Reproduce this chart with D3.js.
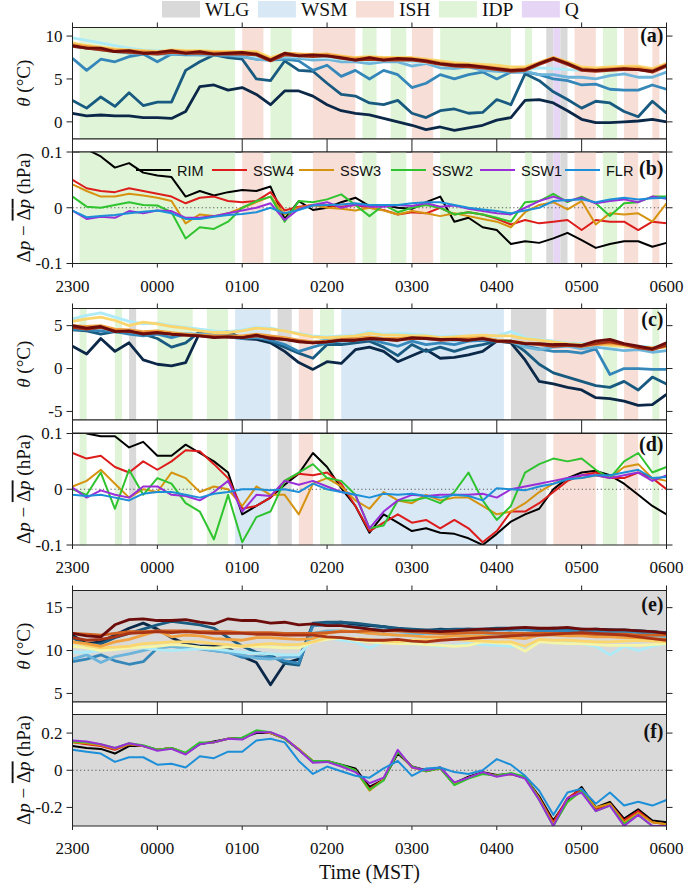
<!DOCTYPE html>
<html><head><meta charset="utf-8">
<script src="https://cdn.jsdelivr.net/npm/d3@7"></script>
<style>body{margin:0;background:#fff}</style>
</head><body><svg id="c" width="685" height="884"></svg>
<script>
// ---------------- DATA ----------------
// minutes after 2300 MST
const minutes=[0,10,20,30,40,50,60,70,80,90,100,110,120,130,140,150,160,170,180,190,200,210,220,230,240,250,260,270,280,290,300,310,320,330,340,350,360,370,380,390,400,410,420];
const hourTicks=[0,60,120,180,240,300,360,420];
const hourLabels=["2300","0000","0100","0200","0300","0400","0500","0600"];
const regimeNames=["WLG","WSM","ISH","IDP","Q"];
// shaded regimes [name, start min, end min]
const shadeAB=[["IDP",5,115],["ISH",120,135],["IDP",140,155],["ISH",170,200],["IDP",205,215],["IDP",225,236],["ISH",240,255],["IDP",260,310],["IDP",320,325],["WLG",335,340],["Q",340,345],["WLG",345,350],["ISH",355,370],["IDP",375,385],["ISH",390,400],["ISH",410,415]];
const shadeCD=[["IDP",5,10],["IDP",30,35],["WLG",40,45],["IDP",60,85],["IDP",95,110],["WSM",115,140],["WLG",145,155],["ISH",160,170],["IDP",175,185],["WSM",190,305],["WLG",310,335],["ISH",340,370],["IDP",375,385],["ISH",390,400],["IDP",410,415]];
const shadeEF=[["WLG",0,420]];

// panel (a) potential temperature
const aNavy=[1.0,0.7,0.8,0.7,0.7,0.5,0.5,0.4,1.2,4.1,4.3,3.7,4.0,3.2,2.0,3.6,3.6,3.0,2.0,1.3,1.0,0.8,0.4,0.0,-0.4,-0.9,-0.6,-1.0,-0.7,-0.4,0.2,0.5,2.5,2.6,2.2,1.3,0.3,-0.1,-0.1,0.0,0.1,0.3,0.0];
const aTeal=[2.5,1.6,2.9,1.8,3.4,1.9,2.3,2.3,6.0,7.0,7.8,7.5,7.3,5.0,4.8,7.1,6.0,5.9,4.5,3.2,3.0,2.2,2.0,2.5,1.0,0.5,1.3,1.5,1.0,1.1,2.6,2.0,5.6,4.8,3.5,2.6,1.6,2.4,2.2,1.2,0.6,2.4,1.0];
const aMed=[7.4,6.0,7.3,7.0,7.6,7.9,7.0,7.9,7.8,7.8,7.8,7.7,7.6,7.3,7.2,7.3,7.1,6.0,6.6,5.3,6.0,5.0,6.0,5.5,4.0,4.5,5.5,5.0,5.5,5.8,5.0,5.8,5.8,5.5,5.0,4.8,4.3,4.4,3.8,3.7,3.7,4.3,3.8];
const aLight=[8.8,8.6,8.4,8.2,8.0,8.0,7.9,7.9,7.9,7.8,7.8,7.8,7.6,7.3,7.2,7.5,7.4,7.2,7.3,7.0,7.0,6.8,7.0,7.0,6.5,6.8,6.3,6.2,6.4,6.0,5.9,5.8,5.9,5.5,5.5,5.2,5.2,5.0,5.4,5.6,5.2,5.2,5.8];
const aCyan=[9.8,9.5,9.2,8.9,8.6,8.4,8.3,8.2,8.2,8.1,8.0,8.0,8.0,7.6,7.4,7.7,7.6,7.5,7.5,7.3,7.2,7.1,7.2,7.2,7.0,6.9,6.8,6.6,6.5,6.4,6.3,6.2,6.1,6.3,6.2,6.1,6.0,6.1,6.0,6.2,6.1,6.0,6.4];
const aYellow=[9.2,8.9,8.7,8.5,8.4,8.3,8.2,8.4,8.3,8.3,8.2,8.2,8.2,8.2,7.5,8.0,7.9,7.9,7.9,7.7,7.5,7.6,7.5,7.5,7.5,7.3,7.1,6.9,6.8,6.7,6.6,6.4,6.4,6.9,7.5,7.0,6.4,6.3,6.4,6.5,6.5,6.2,6.8];
const aOrange=[9.0,8.8,8.6,8.4,8.3,8.2,8.1,8.3,8.2,8.2,8.1,8.1,8.1,8.0,7.3,8.0,7.9,7.8,7.9,7.6,7.4,7.5,7.4,7.4,7.4,7.2,6.9,6.7,6.6,6.5,6.3,6.1,6.2,6.9,7.5,6.9,6.2,6.1,6.2,6.3,6.3,6.0,6.7];
const aRed=[8.8,8.6,8.4,8.2,8.1,8.0,7.9,8.1,8.0,8.0,7.9,7.9,7.9,7.8,7.1,7.8,7.7,7.6,7.7,7.4,7.2,7.3,7.2,7.2,7.2,7.0,6.7,6.5,6.4,6.3,6.1,5.9,6.0,6.7,7.3,6.7,6.0,5.9,6.0,6.1,6.1,5.8,6.5];
const aMaroon=[8.9,8.6,8.6,8.2,8.3,8.0,8.1,8.3,8.0,8.2,7.9,8.0,8.1,7.9,7.2,8.0,7.7,7.8,7.7,7.5,7.2,7.5,7.2,7.4,7.3,7.1,6.8,6.6,6.6,6.4,6.2,6.0,6.1,6.8,7.4,6.8,6.1,6.0,6.1,6.2,6.1,5.9,6.6];

// panel (b) pressure perturbation
const bRIM=[0.13,0.105,0.092,0.072,0.08,0.063,0.058,0.055,0.02,0.03,0.022,0.028,0.032,0.03,0.038,-0.02,0.012,-0.004,0.0,0.01,0.018,0.003,0.005,0.0,-0.002,0.01,0.02,-0.025,-0.018,-0.035,-0.04,-0.065,-0.06,-0.063,-0.055,-0.045,-0.058,-0.072,-0.065,-0.06,-0.06,-0.07,-0.063];
const bSSW4=[0.05,0.035,0.03,0.028,0.035,0.03,0.025,0.02,0.008,0.018,0.02,0.012,0.01,0.012,0.028,-0.005,0.002,0.005,0.004,0.002,0.005,0.0,-0.004,-0.012,-0.008,-0.01,0.0,-0.012,-0.008,-0.012,-0.02,-0.03,-0.022,-0.028,-0.025,-0.022,-0.04,-0.022,-0.025,-0.025,-0.04,-0.025,-0.028];
const bSSW3=[0.042,0.03,0.02,0.02,0.025,0.022,0.018,0.012,-0.028,-0.012,-0.015,-0.01,0.0,0.01,0.02,-0.012,0.0,0.005,0.0,-0.002,-0.005,0.0,-0.005,-0.012,-0.006,-0.01,-0.015,-0.01,-0.015,-0.02,-0.025,-0.035,-0.008,0.005,0.01,-0.003,0.012,-0.03,-0.01,-0.012,-0.01,-0.025,0.008];
const bSSW2=[0.02,0.002,0.0,0.005,0.01,0.005,0.004,-0.008,-0.055,-0.035,-0.038,-0.025,0.0,0.012,0.02,-0.025,0.012,0.01,0.015,0.024,0.005,-0.015,0.005,-0.008,0.0,0.005,0.0,-0.012,-0.008,-0.012,-0.018,-0.025,0.01,0.012,0.025,0.01,0.02,0.008,-0.015,0.008,0.01,0.02,0.02];
const bSSW1=[-0.005,-0.02,-0.016,-0.018,-0.006,-0.01,-0.005,-0.006,-0.018,-0.018,-0.015,-0.01,-0.005,0.0,0.008,-0.022,-0.002,0.005,0.01,0.0,0.006,0.002,0.002,0.005,0.003,0.008,0.002,0.004,-0.002,-0.006,-0.01,-0.012,0.0,0.012,0.02,0.012,0.018,0.008,0.012,0.015,0.01,0.02,0.016];
const bFLR=[-0.005,-0.017,-0.015,-0.013,-0.01,-0.007,-0.005,-0.01,-0.02,-0.02,-0.016,-0.013,-0.011,-0.008,0.0,-0.01,-0.004,0.004,0.005,0.006,0.008,0.005,0.005,0.005,0.008,0.01,0.01,0.005,0.0,-0.003,-0.006,-0.01,-0.005,0.0,0.012,0.014,0.015,0.01,0.015,0.018,0.015,0.017,0.018];

// panel (c)
const cNavy=[2.6,1.7,3.5,2.0,3.0,1.0,0.5,0.3,0.7,4.2,4.3,4.3,3.5,3.4,3.0,2.0,0.7,-0.1,0.8,0.6,2.2,2.5,2.0,0.8,1.5,2.2,1.2,1.3,1.6,2.0,3.2,3.0,1.0,-1.5,-1.8,-2.2,-2.5,-3.4,-3.5,-3.8,-4.3,-4.2,-3.0];
const cTeal=[4.5,4.4,4.0,4.3,4.2,4.0,3.5,2.5,3.0,4.3,4.2,4.1,3.6,3.8,3.2,2.5,1.8,1.2,2.8,2.8,3.0,3.2,2.5,1.5,2.8,2.0,2.5,2.0,2.5,2.8,3.2,3.2,2.0,0.5,-0.5,-1.0,-1.5,-2.0,-2.2,-1.5,-2.5,-1.0,-1.8];
const cMed=[4.6,4.5,4.4,4.3,4.0,3.8,4.0,3.6,4.0,4.0,3.8,3.7,3.5,3.6,3.3,2.8,2.0,2.5,3.0,3.2,3.3,3.4,3.0,2.6,3.2,2.8,3.0,2.8,3.2,3.3,3.2,3.1,2.6,2.3,2.0,2.0,1.8,2.3,-0.7,0.0,0.0,-0.1,-0.1];
const cLight=[4.9,4.8,4.7,4.4,4.3,4.1,4.3,4.1,4.0,4.0,3.9,3.8,3.7,3.7,3.6,3.4,3.2,3.1,3.3,3.4,3.5,3.6,3.5,3.4,3.5,3.5,3.4,3.3,3.4,3.4,3.3,3.2,2.5,2.2,2.5,2.6,2.3,2.5,2.3,2.1,2.2,1.9,2.1];
const cCyan=[5.8,6.2,6.5,6.0,5.5,5.2,5.3,5.0,4.8,4.6,4.4,4.3,4.5,4.8,4.7,4.4,4.1,3.8,3.7,3.8,3.9,4.3,4.0,4.1,4.0,3.9,3.7,3.8,3.7,3.8,3.8,4.3,3.6,3.4,3.2,3.0,2.9,2.9,2.7,2.6,2.6,2.5,2.6];
const cYellow=[5.5,5.8,6.0,5.6,5.0,5.4,5.2,4.9,4.7,4.4,4.2,4.2,4.4,4.7,4.6,4.4,4.0,3.7,3.6,3.7,3.8,4.1,3.9,3.9,3.8,3.8,3.6,3.7,3.8,3.9,3.8,3.8,3.5,3.3,3.1,2.9,2.8,2.9,2.7,2.6,2.5,2.4,2.5];
const cOrange=[5.0,4.9,5.0,4.6,4.5,4.3,4.4,4.2,4.0,3.9,3.8,3.8,3.8,4.0,3.8,3.6,3.3,3.1,3.2,3.4,3.5,3.7,3.5,3.5,3.6,3.6,3.4,3.5,3.5,3.6,3.3,3.2,3.0,2.9,2.7,2.8,2.6,2.8,2.9,2.8,2.5,2.4,2.6];
const cRed=[4.8,4.6,4.8,4.4,4.3,4.1,4.2,4.0,3.9,3.8,3.7,3.7,3.6,3.8,3.6,3.4,3.2,3.0,3.1,3.3,3.3,3.5,3.4,3.3,3.5,3.5,3.3,3.4,3.3,3.5,3.2,3.1,2.9,2.8,2.6,2.7,2.6,2.9,3.1,2.8,2.4,2.2,2.7];
const cMaroon=[5.0,4.7,4.9,4.3,4.4,4.0,4.2,4.0,3.9,3.8,3.6,3.7,3.6,3.9,3.5,3.4,3.1,3.0,3.1,3.3,3.3,3.5,3.4,3.3,3.6,3.5,3.4,3.4,3.3,3.5,3.2,3.2,2.9,2.9,2.8,2.8,2.7,3.2,3.4,2.9,2.6,2.3,3.0];

// panel (d)
const dRIM=[0.12,0.1,0.095,0.095,0.075,0.085,0.06,0.06,0.08,0.065,0.05,0.03,-0.045,-0.03,-0.015,0.008,0.028,0.065,0.04,0.002,-0.03,-0.078,-0.045,-0.06,-0.075,-0.07,-0.078,-0.08,-0.088,-0.1,-0.08,-0.058,-0.045,-0.035,0.0,0.02,0.03,0.033,0.025,0.01,-0.01,-0.03,-0.045];
const dSSW4=[0.065,0.055,0.06,0.04,0.03,0.05,0.035,0.05,0.07,0.068,0.045,0.02,-0.035,-0.03,-0.015,0.015,0.028,0.025,0.03,0.01,-0.03,-0.075,-0.06,-0.045,-0.06,-0.055,-0.07,-0.055,-0.07,-0.095,-0.075,-0.04,-0.04,-0.025,-0.005,0.015,0.025,0.03,0.02,0.02,0.03,0.02,0.0];
const dSSW3=[0.005,0.015,0.035,0.01,-0.015,0.0,-0.005,0.03,0.02,-0.005,0.005,0.0,-0.03,0.005,-0.01,-0.01,-0.045,0.01,0.02,0.005,-0.02,-0.035,-0.005,-0.02,-0.025,-0.01,-0.02,-0.015,-0.015,-0.03,-0.045,-0.04,-0.025,-0.005,0.01,0.02,0.02,0.025,0.02,0.04,0.045,0.02,0.015];
const dSSW2=[0.0,-0.01,0.03,-0.035,0.035,-0.01,0.02,0.01,-0.025,-0.04,-0.09,-0.01,-0.095,-0.05,-0.04,0.015,0.03,0.045,0.02,0.015,-0.01,-0.07,-0.065,-0.02,-0.02,-0.015,-0.025,-0.005,0.03,-0.02,-0.055,-0.03,0.03,0.045,0.055,0.05,0.055,0.035,0.02,0.05,0.065,0.03,0.04];
const dSSW1=[0.003,-0.015,-0.002,-0.01,-0.015,0.005,0.005,-0.01,-0.012,-0.02,-0.005,0.015,-0.04,-0.01,-0.012,0.015,0.008,0.015,0.005,-0.005,-0.01,-0.07,-0.04,-0.02,-0.01,-0.012,-0.01,-0.01,-0.01,-0.008,-0.015,0.0,0.005,0.01,0.015,0.02,0.025,0.025,0.02,0.025,0.03,0.015,0.025];
const dFLR=[-0.01,-0.012,-0.01,-0.015,-0.02,-0.008,-0.005,-0.005,-0.01,-0.015,-0.008,-0.005,0.0,0.0,-0.002,0.0,-0.005,0.01,0.0,-0.005,-0.01,-0.015,-0.008,-0.01,-0.008,-0.012,-0.015,-0.01,-0.012,-0.02,0.002,0.0,-0.002,0.005,0.01,0.018,0.02,0.025,0.025,0.03,0.035,0.02,0.022];

// panel (e)
const eNavy=[11.8,10.8,11.0,11.8,12.6,13.2,12.5,11.5,10.8,10.5,10.5,10.3,9.3,8.6,6.0,8.5,9.0,13.0,13.2,13.3,13.0,12.9,12.8,12.5,12.4,12.3,12.5,12.4,12.5,12.4,12.5,12.4,12.6,12.5,12.6,12.5,12.4,12.5,12.4,12.3,12.3,12.2,12.1];
const eTeal=[11.5,10.6,10.8,11.5,12.0,12.5,13.0,13.4,13.2,13.0,12.6,11.5,10.5,9.8,9.5,8.5,8.3,13.2,13.3,13.3,13.2,13.0,12.8,12.6,12.5,12.4,12.4,12.5,12.5,12.5,12.6,12.6,12.6,12.5,12.5,12.5,12.5,12.4,12.4,12.4,12.3,12.2,12.0];
const eMed=[8.7,9.0,9.5,8.8,8.4,8.7,10.3,10.5,10.3,10.2,10.0,9.8,9.2,9.3,9.2,8.8,8.5,12.9,13.0,12.9,12.8,12.5,12.4,12.3,12.2,12.2,12.2,12.3,12.3,12.3,12.4,12.4,12.4,12.3,12.3,12.3,12.2,12.2,12.2,12.2,12.1,12.1,12.0];
const eLight=[9.0,9.5,8.6,9.3,9.6,10.0,10.4,10.5,10.4,10.3,10.0,9.8,9.5,9.1,9.0,9.2,9.3,12.0,12.3,12.3,12.2,12.0,11.9,11.8,11.9,12.0,12.0,12.0,12.0,12.0,11.9,11.8,11.8,11.9,12.0,12.0,11.9,11.8,11.8,11.8,11.8,11.7,11.6];
const eCyan=[9.8,9.8,10.0,10.2,10.5,10.3,10.1,10.0,10.1,10.2,10.2,10.0,9.8,9.7,9.6,9.5,9.5,11.2,11.5,11.2,11.0,10.3,11.0,10.9,10.8,10.7,10.5,10.6,10.8,10.7,10.6,10.5,10.5,11.0,11.0,11.0,10.8,10.5,9.5,10.5,10.0,10.5,10.8];
const ePale=[10.5,10.3,10.0,10.1,10.3,10.4,10.5,10.7,10.6,10.4,10.3,10.4,10.5,10.5,10.4,10.3,10.3,11.0,11.3,11.5,11.2,11.0,10.9,10.8,10.8,10.7,10.6,10.5,10.6,11.0,10.9,10.8,9.9,11.0,10.9,10.8,10.8,10.7,10.6,10.6,10.6,10.7,10.8];
const eYellow=[11.0,10.6,10.3,10.4,10.5,10.8,10.9,11.0,11.0,11.0,10.8,10.7,10.5,10.7,10.8,10.7,10.7,11.0,11.5,11.5,11.4,11.3,11.1,11.0,11.2,11.2,11.3,11.3,11.2,11.1,11.0,11.0,10.5,11.3,11.2,11.2,11.1,11.0,11.0,11.1,11.2,11.1,11.0];
const eOrange=[11.0,10.8,10.5,11.0,11.3,11.8,12.3,11.6,11.8,11.7,11.4,11.3,11.2,11.5,11.5,11.4,11.3,11.4,12.0,12.3,12.2,12.0,11.9,11.8,11.7,11.6,11.6,11.7,11.7,11.7,11.6,11.5,11.4,11.8,11.8,11.7,11.7,11.6,11.6,11.5,11.5,11.4,11.3];
const eRedOrange=[12.0,11.9,11.8,12.0,12.2,12.2,12.3,12.3,12.3,12.2,12.2,12.2,12.1,12.1,12.1,12.0,12.0,12.0,12.1,12.2,12.2,12.3,12.3,12.3,12.2,12.1,12.0,12.0,12.1,12.1,12.0,12.0,12.0,12.0,12.0,12.0,12.0,11.9,11.9,11.9,11.8,11.8,11.8];
const eMaroonLow=[11.5,11.2,11.3,11.6,12.0,12.1,12.2,12.1,12.2,12.1,12.0,12.0,12.0,11.9,11.9,11.8,11.8,11.8,11.6,11.5,11.3,11.2,11.2,11.3,11.1,11.0,11.2,11.3,11.4,11.5,11.6,11.7,11.8,11.8,11.9,12.0,12.1,12.0,11.9,11.8,11.6,11.4,11.2];
const eMaroon=[12.0,11.7,11.6,13.0,13.6,13.7,13.5,13.5,13.6,13.3,13.1,13.7,13.5,13.5,13.2,13.3,13.0,13.1,12.9,12.9,12.7,12.5,12.3,12.4,12.3,12.3,12.2,12.3,12.4,12.5,12.5,12.6,12.7,12.6,12.6,12.7,12.5,12.5,12.4,12.4,12.3,12.2,12.0];

// panel (f)
const fRIM=[0.13,0.12,0.115,0.09,0.13,0.13,0.11,0.12,0.09,0.14,0.155,0.17,0.175,0.2,0.2,0.17,0.11,0.045,0.05,0.03,0.01,-0.09,-0.05,0.09,0.02,0.0,0.015,-0.07,-0.035,-0.01,-0.025,-0.02,-0.04,-0.14,-0.27,-0.16,-0.09,-0.2,-0.17,-0.26,-0.21,-0.27,-0.28];
const fSSW4=[0.15,0.14,0.13,0.11,0.14,0.13,0.11,0.12,0.09,0.145,0.15,0.17,0.17,0.21,0.2,0.17,0.11,0.05,0.05,0.025,0.0,-0.1,-0.05,0.1,0.02,-0.005,0.01,-0.075,-0.04,-0.015,-0.03,-0.02,-0.04,-0.15,-0.28,-0.15,-0.1,-0.21,-0.18,-0.27,-0.22,-0.28,-0.29];
const fSSW3=[0.15,0.145,0.135,0.115,0.14,0.13,0.11,0.12,0.09,0.145,0.15,0.17,0.17,0.21,0.2,0.17,0.115,0.05,0.05,0.025,0.0,-0.11,-0.05,0.1,0.015,-0.005,0.01,-0.075,-0.04,-0.015,-0.03,-0.02,-0.04,-0.15,-0.29,-0.17,-0.11,-0.2,-0.18,-0.28,-0.23,-0.28,-0.29];
const fSSW2=[0.155,0.15,0.14,0.12,0.145,0.135,0.11,0.12,0.095,0.15,0.15,0.17,0.175,0.215,0.205,0.17,0.11,0.05,0.05,0.03,0.0,-0.105,-0.055,0.1,0.02,-0.005,0.01,-0.08,-0.045,-0.02,-0.03,-0.015,-0.035,-0.16,-0.3,-0.17,-0.11,-0.22,-0.19,-0.29,-0.24,-0.3,-0.3];
const fSSW1=[0.16,0.155,0.14,0.12,0.145,0.13,0.105,0.115,0.085,0.14,0.15,0.17,0.165,0.205,0.205,0.175,0.11,0.04,0.045,0.02,-0.01,-0.07,-0.04,0.11,0.015,0.0,0.015,-0.065,-0.04,-0.01,-0.035,-0.02,-0.045,-0.16,-0.3,-0.15,-0.12,-0.22,-0.19,-0.3,-0.24,-0.3,-0.3];
const fFLR=[0.11,0.1,0.09,0.045,0.07,0.07,0.03,0.035,0.015,0.075,0.065,0.1,0.1,0.16,0.17,0.15,0.05,-0.02,0.02,-0.005,-0.03,-0.04,0.01,0.05,-0.03,0.01,0.015,-0.01,-0.02,0.0,0.06,0.03,-0.03,-0.11,-0.24,-0.12,-0.1,-0.18,-0.12,-0.19,-0.17,-0.19,-0.16];

const stationNames=["RIM","SSW4","SSW3","SSW2","SSW1","FLR"];

// ---------------- STYLE ----------------
const regimeColor={WLG:"#d9d9d9",WSM:"#d8e8f5",ISH:"#f7ded6",IDP:"#e0f5d8",Q:"#e6d5f5"};
const thetaColor={navy:"#0c2848",teal:"#185a80",med:"#3587b9",light:"#6db4da",cyan:"#aeebf8",pale:"#f4f5a8",yellow:"#fbd66f",orange:"#f0a03e",redorange:"#d0601f",red:"#a83214",maroon:"#6c0d0b"};
const stationColor={RIM:"#000000",SSW4:"#dd1c1c",SSW3:"#d6930f",SSW2:"#2fc42f",SSW1:"#9a2fd8",FLR:"#1c8fd8"};
const SERIF="'Liberation Serif','DejaVu Serif',serif";
const SANS="'Liberation Sans','DejaVu Sans',sans-serif";

const X0=72.5,X1=666.5,PH=111.5;
const x=d3.scaleLinear().domain([0,420]).range([X0,X1]);
const svg=d3.select("#c");

const panels=[
 {id:"a",top:27.5,dom:[-2,11],ticks:[0,5,10],fmt:d=>String(d),shade:shadeAB,labY:42,kind:"t",
  series:[[aNavy,"navy"],[aTeal,"teal"],[aMed,"med"],[aLight,"light"],[aCyan,"cyan"],[aYellow,"yellow"],[aOrange,"orange"],[aRed,"red"],[aMaroon,"maroon"]]},
 {id:"b",top:152,dom:[-0.1,0.1],ticks:[-0.1,0,0.1],fmt:d=>d===0?"0":String(d),shade:shadeAB,labY:175,kind:"p",legend:true,
  series:[bRIM,bSSW4,bSSW3,bSSW2,bSSW1,bFLR]},
 {id:"c",top:308.5,dom:[-6,7],ticks:[-5,0,5],fmt:d=>String(d),shade:shadeCD,labY:326,kind:"t",
  series:[[cNavy,"navy"],[cTeal,"teal"],[cMed,"med"],[cLight,"light"],[cCyan,"cyan"],[cYellow,"yellow"],[cOrange,"orange"],[cRed,"red"],[cMaroon,"maroon"]]},
 {id:"d",top:433.5,dom:[-0.1,0.1],ticks:[-0.1,0,0.1],fmt:d=>d===0?"0":String(d),shade:shadeCD,labY:451,kind:"p",
  series:[dRIM,dSSW4,dSSW3,dSSW2,dSSW1,dFLR]},
 {id:"e",top:590.5,dom:[4,17],ticks:[5,10,15],fmt:d=>String(d),shade:shadeEF,labY:611,kind:"t",
  series:[[eNavy,"navy"],[eTeal,"teal"],[eMed,"med"],[eLight,"light"],[eCyan,"cyan"],[ePale,"pale"],[eYellow,"yellow"],[eOrange,"orange"],[eRedOrange,"redorange"],[eMaroonLow,"red"],[eMaroon,"maroon"]]},
 {id:"f",top:714.5,dom:[-0.3,0.3],ticks:[-0.2,0,0.2],fmt:d=>d===0?"0":String(d),shade:shadeEF,labY:738,kind:"p",
  series:[fRIM,fSSW4,fSSW3,fSSW2,fSSW1,fFLR]}
];

const defs=svg.append("defs");

panels.forEach(p=>{
  const y=d3.scaleLinear().domain(p.dom).range([p.top+PH,p.top]);
  const g=svg.append("g");
  defs.append("clipPath").attr("id","clip"+p.id).append("rect").attr("x",X0).attr("y",p.top).attr("width",X1-X0).attr("height",PH);
  g.selectAll("rect.sh").data(p.shade).enter().append("rect")
    .attr("x",d=>x(d[1])).attr("width",d=>x(d[2])-x(d[1]))
    .attr("y",p.top).attr("height",PH).attr("fill",d=>regimeColor[d[0]]);
  if(p.kind==="p"){
    g.append("line").attr("x1",X0).attr("x2",X1).attr("y1",y(0)).attr("y2",y(0))
      .attr("stroke","#555").attr("stroke-width",1.2).attr("stroke-dasharray","1.2,2.6");
  }
  const line=d3.line().x((d,i)=>x(minutes[i])).y(d=>y(d));
  const lg=g.append("g").attr("clip-path","url(#clip"+p.id+")");
  if(p.kind==="t"){
    p.series.forEach(s=>{
      lg.append("path").attr("d",line(s[0])).attr("fill","none").attr("stroke",thetaColor[s[1]])
        .attr("stroke-width",2.8).attr("stroke-linejoin","round");
    });
  } else {
    p.series.forEach((s,k)=>{
      lg.append("path").attr("d",line(s)).attr("fill","none").attr("stroke",stationColor[stationNames[k]])
        .attr("stroke-width",2).attr("stroke-linejoin","round");
    });
  }
  g.append("rect").attr("x",X0).attr("y",p.top).attr("width",X1-X0).attr("height",PH)
    .attr("fill","none").attr("stroke","#222").attr("stroke-width",1);
  p.ticks.forEach(t=>{
    g.append("line").attr("x1",X0-6).attr("x2",X0).attr("y1",y(t)).attr("y2",y(t)).attr("stroke","#222");
    g.append("line").attr("x1",X1).attr("x2",X1+6).attr("y1",y(t)).attr("y2",y(t)).attr("stroke","#222");
    g.append("text").attr("x",X0-10).attr("y",y(t)).attr("dy","0.34em").attr("text-anchor","end")
      .attr("font-family",SERIF).attr("font-size",17).attr("fill","#111").text(p.fmt(t));
  });
  g.append("text").attr("x",X1-3).attr("y",p.labY).attr("text-anchor","end").attr("font-family",SERIF)
    .attr("font-weight","bold").attr("font-size",20).attr("fill","#111").text("("+p.id+")");
  const yc=p.top+PH/2;
  const tt=g.append("text").attr("transform",`translate(23,${yc}) rotate(-90)`).attr("text-anchor","middle")
    .attr("dy","0.35em").attr("font-family",SERIF).attr("font-size",19).attr("fill","#111");
  if(p.kind==="t"){
    tt.append("tspan").attr("font-style","italic").text("θ");
    tt.append("tspan").text(" (°C)");
  } else {
    tt.append("tspan").text("Δ");
    tt.append("tspan").attr("font-style","italic").text("p");
    tt.append("tspan").text(" − ");
    const ov=tt.append("tspan").style("text-decoration","overline");
    ov.append("tspan").text("Δ");
    ov.append("tspan").attr("font-style","italic").text("p");
    tt.append("tspan").text(" (hPa)");
  }
  if(p.kind==="t"){
    hourTicks.forEach(h=>g.append("line").attr("x1",x(h)).attr("x2",x(h)).attr("y1",p.top-5).attr("y2",p.top).attr("stroke","#222"));
    const gb=p.top+PH, ge=p.top+PH+13;
    g.append("rect").attr("x",X0).attr("y",gb).attr("width",X1-X0).attr("height",ge-gb).attr("fill","#fff").attr("stroke","#222");
    hourTicks.forEach(h=>g.append("line").attr("x1",x(h)).attr("x2",x(h)).attr("y1",gb).attr("y2",ge).attr("stroke","#222"));
  } else {
    const b=p.top+PH;
    hourTicks.forEach((h,i)=>{
      g.append("line").attr("x1",x(h)).attr("x2",x(h)).attr("y1",b).attr("y2",b+4).attr("stroke","#222");
      g.append("text").attr("x",x(h)).attr("y",b+28).attr("text-anchor","middle").attr("font-family",SERIF)
        .attr("font-size",17).attr("fill","#111").text(hourLabels[i]);
    });
  }
  if(p.legend){
    const ly=170;
    const lx=[136,212,299,391,480,565];
    stationNames.forEach((n,k)=>{
      g.append("line").attr("x1",lx[k]).attr("x2",lx[k]+35).attr("y1",ly).attr("y2",ly)
        .attr("stroke",stationColor[n]).attr("stroke-width",2);
      g.append("text").attr("x",lx[k]+41).attr("y",ly+5.5).attr("font-family",SANS).attr("font-size",14.5)
        .attr("fill","#111").text(n);
    });
  }
});

svg.append("text").attr("x",(X0+X1)/2).attr("y",879).attr("text-anchor","middle").attr("font-family",SERIF)
  .attr("font-size",20).attr("fill","#111").text("Time (MST)");

let cx=162;
regimeNames.forEach(n=>{
  svg.append("rect").attr("x",cx).attr("y",1).attr("width",38).attr("height",16.5).attr("fill",regimeColor[n]);
  const t=svg.append("text").attr("x",cx+43).attr("y",16).attr("font-family",SERIF).attr("font-size",19.5)
    .attr("fill","#111").text(n);
  cx=cx+43+t.node().getComputedTextLength()+8.5;
});
</script>
</body></html>
